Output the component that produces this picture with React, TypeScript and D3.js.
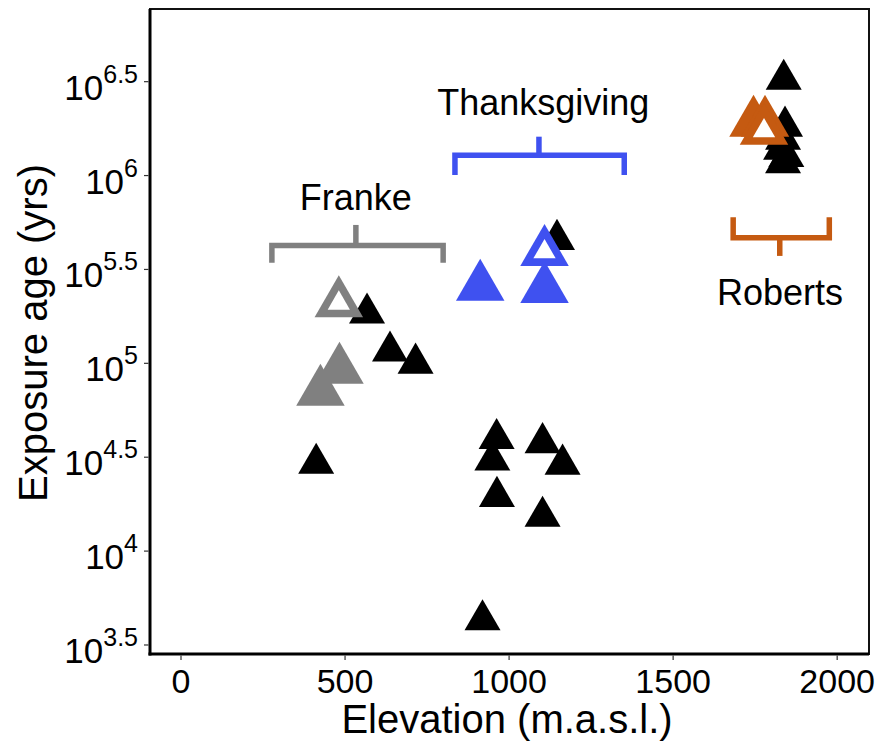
import React from 'react';
import * as d3 from 'd3';

// cosmogenic exposure ages vs elevation (years, m.a.s.l.)
const blackElev = [412, 567, 637, 715, 1146, 962, 949, 963, 1102, 1163, 1102, 919, 1837, 1841, 1835, 1829, 1845, 1835];
const blackAge = [29300, 185000, 116000, 100000, 456000, 39700, 30500, 19500, 37700, 29000, 15300, 4300, 3250000, 1830000, 1560000, 1380000, 1260000, 1170000];

const siteNames = ['Franke', 'Thanksgiving', 'Roberts'];
const siteColors = ['#808080', '#3f51f0', '#c55a11'];

// filled coloured triangles: site index, elevation, age
const filledSite = [0, 0, 1, 1, 2, 2];
const filledElev = [425, 483, 912, 1108, 1745, 1780];
const filledAge = [70600, 92300, 256000, 249000, 1910000, 1910000];

// open coloured triangles
const openSite = [0, 1, 2];
const openElev = [481, 1108, 1777];
const openAge = [209000, 392000, 1730000];

// brackets over each site (elevation from/to/middle, log10 age of bar/ends/stem, label)
const bracketX0 = [277, 835, 1683];
const bracketX1 = [799, 1351, 1976];
const bracketXm = [533, 1091, 1825];
const bracketBar = [5.628, 6.108, 5.669];
const bracketEnd = [5.535, 6.003, 5.778];
const bracketStem = [5.737, 6.207, 5.572];
const labelElev = [533, 1104, 1826];
const labelLog = [5.816, 6.322, 5.311];

const xTicks = [0, 500, 1000, 1500, 2000];
const yTickExp = [3.5, 4, 4.5, 5, 5.5, 6, 6.5];

const W = 882;
const H = 749;
const left = 150, right = 869, top = 9, bottom = 654;
const font = '"Liberation Sans", Arial, sans-serif';

const tri = (cx: number, cy: number, s: number) => {
  const h = (s * Math.sqrt(3)) / 2;
  return `M${cx},${cy - (2 * h) / 3}L${cx - s / 2},${cy + h / 3}L${cx + s / 2},${cy + h / 3}Z`;
};

const App = () => {
  const x = d3.scaleLinear().domain([-94.5, 2097]).range([left, right]);
  const y = d3.scaleLog().domain([Math.pow(10, 3.452), Math.pow(10, 6.887)]).range([bottom, top]);
  const yl = (e: number) => y(Math.pow(10, e));

  const bigS = 48.5;
  const smallS = 36;

  return (
    <svg width={W} height={H} style={{ position: 'absolute', left: 0, top: 0, background: '#fff' }} fontFamily={font}>
      <rect x={0} y={0} width={W} height={H} fill="#fff" />

      {/* brackets */}
      {siteNames.map((n, i) => (
        <g key={n} stroke={siteColors[i]} strokeWidth={5.5} fill="none">
          <path d={`M${x(bracketX0[i])},${yl(bracketEnd[i])}V${yl(bracketBar[i])}H${x(bracketX1[i])}V${yl(bracketEnd[i])}`} />
          <path d={`M${x(bracketXm[i])},${yl(bracketBar[i])}V${yl(bracketStem[i])}`} />
        </g>
      ))}
      {siteNames.map((n, i) => (
        <text key={'l' + n} x={x(labelElev[i])} y={yl(labelLog[i])} textAnchor="middle" fontSize={36} fill="#000">
          {n}
        </text>
      ))}

      {/* black points */}
      {blackElev.map((e, i) => (
        <path key={'b' + i} d={tri(x(e), y(blackAge[i]), smallS)} fill="#000" />
      ))}

      {/* filled site points */}
      {filledElev.map((e, i) => (
        <path key={'f' + i} d={tri(x(e), y(filledAge[i]), bigS)} fill={siteColors[filledSite[i]]} />
      ))}

      {/* open site points, white inside */}
      {openElev.map((e, i) => {
        const cx = x(e);
        const cy = y(openAge[i]);
        return (
          <g key={'o' + i}>
            <path d={tri(cx, cy, bigS)} fill={siteColors[openSite[i]]} />
            <path d={tri(cx, cy, bigS * 0.46)} fill="#fff" />
          </g>
        );
      })}

      {/* panel frame */}
      <rect x={left} y={top} width={right - left} height={bottom - top} fill="none" stroke="#111" strokeWidth={2} />
      <line x1={left} x2={left} y1={top} y2={bottom + 1.5} stroke="#000" strokeWidth={3} />
      <line x1={left - 1.5} x2={right} y1={bottom} y2={bottom} stroke="#000" strokeWidth={3} />

      {/* x axis */}
      {xTicks.map((t) => (
        <g key={'x' + t}>
          <line x1={x(t)} x2={x(t)} y1={bottom + 1.5} y2={bottom + 6} stroke="#333" strokeWidth={1.2} />
          <text x={x(t)} y={693} textAnchor="middle" fontSize={34} fill="#000">
            {t}
          </text>
        </g>
      ))}
      <text x={507} y={733} textAnchor="middle" fontSize={40} fill="#000">
        Elevation (m.a.s.l.)
      </text>

      {/* y axis */}
      {yTickExp.map((e) => (
        <g key={'y' + e}>
          <line x1={left - 1.5} x2={left - 6} y1={yl(e)} y2={yl(e)} stroke="#333" strokeWidth={1.2} />
          <text x={138} y={yl(e) + 18} textAnchor="end" fontSize={35} fill="#000">
            <tspan>10</tspan>
            <tspan dy={-17} fontSize={25}>
              {e}
            </tspan>
          </text>
        </g>
      ))}
      <text transform={`translate(47,333) rotate(-90)`} textAnchor="middle" fontSize={40} fill="#000">
        Exposure age (yrs)
      </text>
    </svg>
  );
};

export default App;
